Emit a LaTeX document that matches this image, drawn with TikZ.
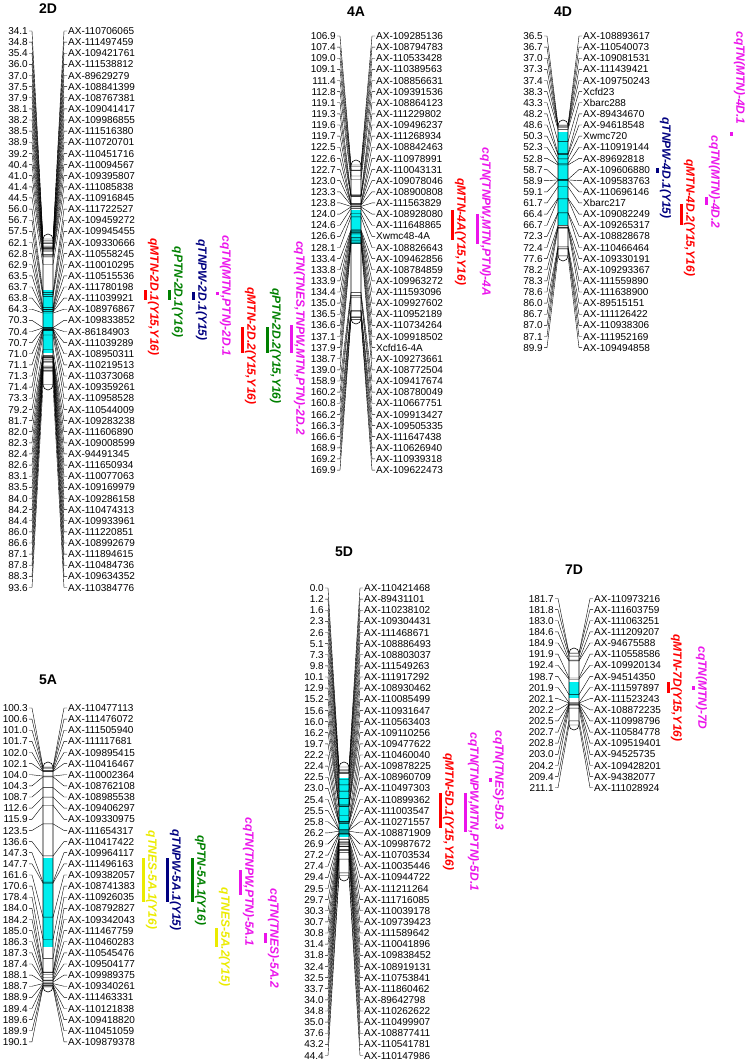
\documentclass[tikz,border=0pt]{standalone}
\usepackage{fontspec}
\setmainfont{Liberation Sans}
\usetikzlibrary{calc}

\definecolor{qtlcyan}{RGB}{0,238,238}
\definecolor{qred}{RGB}{255,0,0}
\definecolor{qgreen}{RGB}{0,128,0}
\definecolor{qnavy}{RGB}{0,0,128}
\definecolor{qpink}{RGB}{235,20,235}
\definecolor{qyellow}{RGB}{235,235,0}

\tikzset{
  cmlabel/.style={anchor=east, inner sep=1pt, font=\fontsize{10}{12}\selectfont, text height=7.2pt, text depth=0pt},
  mklabel/.style={anchor=west, inner sep=1pt, font=\fontsize{10}{12}\selectfont, text height=7.2pt, text depth=0pt},
  link/.style={line width=0.4pt},
  chrom/.style={draw, line width=0.6pt, rounded corners=5pt},
  qbar/.style={line width=3pt},
  qlab/.style={rotate=-90, inner sep=0pt, font=\bfseries\itshape\fontsize{12}{14}\selectfont},
  maptitle/.style={inner sep=0pt, font=\bfseries\fontsize{14}{16}\selectfont}
}

\begin{document}
\begin{tikzpicture}[x=1pt,y=-1pt]
  \useasboundingbox (0,0) rectangle (750,1064);

  % 2D
  \node[maptitle] (t2D) at (48,9) {2D};
  \fill[qtlcyan] (43,290) rectangle (53,353);
  \foreach \cm/\mk [count=\i] in {34.1/AX-110706065, 34.8/AX-111497459, 35.4/AX-109421761, 36.0/AX-111538812, 37.0/AX-89629279, 37.5/AX-108841399, 37.9/AX-108767381, 38.1/AX-109041417, 38.2/AX-109986855, 38.5/AX-111516380, 38.9/AX-110720701, 39.2/AX-110451716, 40.4/AX-110094567, 41.0/AX-109395807, 41.4/AX-111085838, 44.5/AX-110916845, 56.0/AX-111722527, 56.7/AX-109459272, 57.5/AX-109945455, 62.1/AX-109330666, 62.8/AX-110558245, 62.9/AX-110010295, 63.5/AX-110515536, 63.7/AX-111780198, 63.8/AX-111039921, 64.3/AX-108976867, 70.3/AX-109833852, 70.4/AX-86184903, 70.7/AX-111039289, 71.0/AX-108950311, 71.1/AX-110219513, 71.3/AX-110373068, 71.4/AX-109359261, 73.3/AX-110958528, 79.2/AX-110544009, 81.7/AX-109283238, 82.0/AX-111606890, 82.3/AX-109008599, 82.4/AX-94491345, 82.6/AX-111650934, 83.1/AX-110077063, 83.5/AX-109169979, 84.0/AX-109286158, 84.2/AX-110474313, 84.4/AX-109933961, 86.0/AX-111220851, 86.6/AX-108992679, 87.1/AX-111894615, 87.8/AX-110484736, 88.3/AX-109634352, 93.6/AX-110384776}{
    \pgfmathsetmacro\yl{31+(\i-1)*11.13}
    \pgfmathsetmacro\yt{239+(\cm-34.1)*2.45}
    \node[cmlabel] (c2D-\i) at (29,\yl) {\cm};
    \node[mklabel] (m2D-\i) at (67,\yl) {\mk};
    \coordinate (l2D-\i) at (43,\yt);
    \coordinate (r2D-\i) at (53,\yt);
    \draw[link] (c2D-\i.east) -- ++(3,0) -- (l2D-\i) -- (r2D-\i) -- ($(m2D-\i.west)+(-3,0)$) -- (m2D-\i.west);
  }
  \draw[chrom] (43,234) rectangle (53,390);
  \draw[qbar,qred] (145,290) -- (145,300);
  \node[qlab,text=qred] (q2D-1) at (153.5,297) {qMTN-2D.1(Y15,Y16)};
  \draw[qbar,qgreen] (169,290) -- (169,300);
  \node[qlab,text=qgreen] (q2D-2) at (177.5,292) {qPTN-2D.1(Y16)};
  \draw[qbar,qnavy] (193,292) -- (193,300);
  \node[qlab,text=qnavy] (q2D-3) at (201.5,290) {qTNPW-2D.1(Y15)};
  \draw[qbar,qpink] (217,292) -- (217,295);
  \node[qlab,text=qpink] (q2D-4) at (225.5,296) {cqTN(MTN,PTN)-2D.1};
  \draw[qbar,qred] (242,327) -- (242,353);
  \node[qlab,text=qred] (q2D-5) at (250.5,346) {qMTN-2D.2(Y15,Y16)};
  \draw[qbar,qgreen] (267,327) -- (267,353);
  \node[qlab,text=qgreen] (q2D-6) at (275.5,346) {qPTN-2D.2(Y15,Y16)};
  \draw[qbar,qpink] (291,325) -- (291,353);
  \node[qlab,text=qpink] (q2D-7) at (299.5,338) {cqTN(TNES,TNPW,MTN,PTN)-2D.2};

  % 4A
  \node[maptitle] (t4A) at (356,12) {4A};
  \fill[qtlcyan] (351,210) rectangle (361,244);
  \foreach \cm/\mk [count=\i] in {106.9/AX-109285136, 107.4/AX-108794783, 109.0/AX-110533428, 109.1/AX-110389563, 111.4/AX-108856631, 112.8/AX-109391536, 119.1/AX-108864123, 119.3/AX-111229802, 119.6/AX-109496237, 119.7/AX-111268934, 122.5/AX-108842463, 122.6/AX-110978991, 122.7/AX-110043131, 123.0/AX-109078046, 123.3/AX-108900808, 123.8/AX-111563829, 124.0/AX-108928080, 124.6/AX-111648865, 126.6/Xwmc48-4A, 128.1/AX-108826643, 133.4/AX-109462856, 133.8/AX-108784859, 133.9/AX-109963272, 134.4/AX-111593096, 135.0/AX-109927602, 136.5/AX-110952189, 136.6/AX-110734264, 137.1/AX-109918502, 137.9/Xcfd16-4A, 138.7/AX-109273661, 139.0/AX-108772504, 158.9/AX-109417674, 160.2/AX-108780049, 160.8/AX-110667751, 166.2/AX-109913427, 166.3/AX-109505335, 166.6/AX-111647438, 168.9/AX-110626940, 169.2/AX-110939318, 169.9/AX-109622473}{
    \pgfmathsetmacro\yl{36+(\i-1)*11.13}
    \pgfmathsetmacro\yt{165+(\cm-106.9)*2.45}
    \node[cmlabel] (c4A-\i) at (337,\yl) {\cm};
    \node[mklabel] (m4A-\i) at (375,\yl) {\mk};
    \coordinate (l4A-\i) at (351,\yt);
    \coordinate (r4A-\i) at (361,\yt);
    \draw[link] (c4A-\i.east) -- ++(3,0) -- (l4A-\i) -- (r4A-\i) -- ($(m4A-\i.west)+(-3,0)$) -- (m4A-\i.west);
  }
  \draw[chrom] (351,160) rectangle (361,324);
  \draw[qbar,qred] (452,210) -- (452,240);
  \node[qlab,text=qred] (q4A-1) at (460.5,232) {qMTN-4A(Y15,Y16)};
  \draw[qbar,qpink] (477,214) -- (477,244);
  \node[qlab,text=qpink] (q4A-2) at (485.5,222) {cqTN(TNPW,MTN,PTN)-4A};

  % 4D
  \node[maptitle] (t4D) at (563,12) {4D};
  \fill[qtlcyan] (558,132) rectangle (568,225);
  \foreach \cm/\mk [count=\i] in {36.5/AX-108893617, 36.7/AX-110540073, 37.0/AX-109081531, 37.3/AX-111439421, 37.4/AX-109750243, 38.3/Xcfd23, 43.3/Xbarc288, 48.2/AX-89434670, 48.6/AX-94618548, 50.3/Xwmc720, 52.3/AX-110919144, 52.8/AX-89692818, 58.7/AX-109606880, 58.9/AX-109583763, 59.1/AX-110696146, 61.7/Xbarc217, 66.4/AX-109082249, 66.7/AX-109265317, 72.3/AX-108828678, 72.4/AX-110466464, 77.6/AX-109330191, 78.2/AX-109293367, 78.3/AX-111559890, 78.6/AX-111638900, 86.0/AX-89515151, 86.7/AX-111126422, 87.0/AX-110938306, 87.1/AX-111952169, 89.9/AX-109494858}{
    \pgfmathsetmacro\yl{36+(\i-1)*11.13}
    \pgfmathsetmacro\yt{125+(\cm-36.5)*2.45}
    \node[cmlabel] (c4D-\i) at (544,\yl) {\cm};
    \node[mklabel] (m4D-\i) at (582,\yl) {\mk};
    \coordinate (l4D-\i) at (558,\yt);
    \coordinate (r4D-\i) at (568,\yt);
    \draw[link] (c4D-\i.east) -- ++(3,0) -- (l4D-\i) -- (r4D-\i) -- ($(m4D-\i.west)+(-3,0)$) -- (m4D-\i.west);
  }
  \draw[chrom] (558,120) rectangle (568,261);
  \draw[qbar,qnavy] (657,168) -- (657,173);
  \node[qlab,text=qnavy] (q4D-1) at (665.5,168) {qTNPW-4D.1(Y15)};
  \draw[qbar,qred] (681,204) -- (681,225);
  \node[qlab,text=qred] (q4D-2) at (689.5,218) {qMTN-4D.2(Y15,Y16)};
  \draw[qbar,qpink] (706,197) -- (706,205);
  \node[qlab,text=qpink] (q4D-3) at (714.5,182) {cqTN(MTN)-4D.2};
  \draw[qbar,qpink] (731,132) -- (731,136);
  \node[qlab,text=qpink] (q4D-4) at (739.5,78) {cqTN(MTN)-4D.1};

  % 5A
  \node[maptitle] (t5A) at (48,680) {5A};
  \fill[qtlcyan] (43,858) rectangle (53,947);
  \foreach \cm/\mk [count=\i] in {100.3/AX-110477113, 100.6/AX-111476072, 101.0/AX-111505940, 101.7/AX-111117681, 102.0/AX-109895415, 102.1/AX-110416467, 104.0/AX-110002364, 104.3/AX-108762108, 108.7/AX-108985538, 112.6/AX-109406297, 115.9/AX-109330975, 123.5/AX-111654317, 136.6/AX-110417422, 147.3/AX-109964117, 147.7/AX-111496163, 161.6/AX-109382057, 170.6/AX-108741383, 178.4/AX-110926035, 184.0/AX-108792827, 184.2/AX-109342043, 185.0/AX-111467759, 186.3/AX-110460283, 187.3/AX-110545476, 187.4/AX-109504177, 188.1/AX-109989375, 188.7/AX-109340261, 188.9/AX-111463331, 189.4/AX-110121838, 189.6/AX-109418820, 189.9/AX-110451059, 190.1/AX-109879378}{
    \pgfmathsetmacro\yl{708+(\i-1)*11.13}
    \pgfmathsetmacro\yt{767+(\cm-100.3)*2.45}
    \node[cmlabel] (c5A-\i) at (29,\yl) {\cm};
    \node[mklabel] (m5A-\i) at (67,\yl) {\mk};
    \coordinate (l5A-\i) at (43,\yt);
    \coordinate (r5A-\i) at (53,\yt);
    \draw[link] (c5A-\i.east) -- ++(3,0) -- (l5A-\i) -- (r5A-\i) -- ($(m5A-\i.west)+(-3,0)$) -- (m5A-\i.west);
  }
  \draw[chrom] (43,762) rectangle (53,992);
  \draw[qbar,qyellow] (143,858) -- (143,902);
  \node[qlab,text=qyellow] (q5A-1) at (151.5,880) {qTNES-5A.1(Y16)};
  \draw[qbar,qnavy] (167,858) -- (167,902);
  \node[qlab,text=qnavy] (q5A-2) at (175.5,880) {qTNPW-5A.1(Y15)};
  \draw[qbar,qgreen] (192,858) -- (192,902);
  \node[qlab,text=qgreen] (q5A-3) at (200.5,880) {qPTN-5A.1(Y16)};
  \draw[qbar,qyellow] (216,928) -- (216,947);
  \node[qlab,text=qyellow] (q5A-4) at (224.5,937) {qTNES-5A.2(Y15)};
  \draw[qbar,qpink] (240,870) -- (240,895);
  \node[qlab,text=qpink] (q5A-5) at (248.5,882) {cqTN(TNPW,PTN)-5A.1};
  \draw[qbar,qpink] (265,933) -- (265,943);
  \node[qlab,text=qpink] (q5A-6) at (273.5,938) {cqTN(TNES)-5A.2};

  % 5D
  \node[maptitle] (t5D) at (344,552) {5D};
  \fill[qtlcyan] (339,778) rectangle (349,837);
  \foreach \cm/\mk [count=\i] in {0.0/AX-110421468, 1.2/AX-89431101, 1.6/AX-110238102, 2.3/AX-109304431, 2.6/AX-111468671, 5.1/AX-108886493, 7.3/AX-108803037, 9.8/AX-111549263, 10.1/AX-111917292, 12.9/AX-108930462, 15.2/AX-110085499, 15.6/AX-110931647, 16.0/AX-110563403, 16.2/AX-109110256, 19.7/AX-109477622, 22.2/AX-110460040, 22.4/AX-109878225, 22.5/AX-108960709, 23.0/AX-110497303, 25.4/AX-110899362, 25.5/AX-111003547, 25.8/AX-110271557, 26.2/AX-108871909, 26.9/AX-109987672, 27.2/AX-110703534, 27.4/AX-110035446, 29.4/AX-110944722, 29.5/AX-111211264, 29.7/AX-111716085, 30.3/AX-110039178, 30.7/AX-109739423, 30.8/AX-111589642, 31.4/AX-110041896, 31.8/AX-109838452, 32.4/AX-108919131, 32.5/AX-110753841, 33.7/AX-111860462, 34.0/AX-89642798, 34.8/AX-110262622, 35.0/AX-110499907, 37.6/AX-108877411, 43.2/AX-110541781, 44.4/AX-110147986}{
    \pgfmathsetmacro\yl{588+(\i-1)*11.13}
    \pgfmathsetmacro\yt{767+\cm*2.45}
    \node[cmlabel] (c5D-\i) at (325,\yl) {\cm};
    \node[mklabel] (m5D-\i) at (363,\yl) {\mk};
    \coordinate (l5D-\i) at (339,\yt);
    \coordinate (r5D-\i) at (349,\yt);
    \draw[link] (c5D-\i.east) -- ++(3,0) -- (l5D-\i) -- (r5D-\i) -- ($(m5D-\i.west)+(-3,0)$) -- (m5D-\i.west);
  }
  \draw[chrom] (339,762) rectangle (349,881);
  \draw[qbar,qred] (440,793) -- (440,828);
  \node[qlab,text=qred] (q5D-1) at (448.5,812) {qMTN-5D.1(Y15,Y16)};
  \draw[qbar,qpink] (465,793) -- (465,832);
  \node[qlab,text=qpink] (q5D-2) at (473.5,812) {cqTN(TNPW,MTN,PTN)-5D.1};
  \draw[qbar,qpink] (490,778) -- (490,782);
  \node[qlab,text=qpink] (q5D-3) at (498.5,780) {cqTN(TNES)-5D.3};

  % 7D
  \node[maptitle] (t7D) at (574,570) {7D};
  \fill[qtlcyan] (569,682) rectangle (579,698);
  \foreach \cm/\mk [count=\i] in {181.7/AX-110973216, 181.8/AX-111603759, 183.0/AX-111063251, 184.6/AX-111209207, 184.9/AX-94675588, 191.9/AX-110558586, 192.4/AX-109920134, 198.7/AX-94514350, 201.9/AX-111597897, 202.1/AX-111523243, 202.2/AX-108872235, 202.5/AX-110998796, 202.7/AX-110584778, 202.8/AX-109519401, 203.0/AX-94525735, 204.2/AX-109428201, 209.4/AX-94382077, 211.1/AX-111028924}{
    \pgfmathsetmacro\yl{598.5+(\i-1)*11.13}
    \pgfmathsetmacro\yt{653+(\cm-181.7)*2.45}
    \node[cmlabel] (c7D-\i) at (555,\yl) {\cm};
    \node[mklabel] (m7D-\i) at (593,\yl) {\mk};
    \coordinate (l7D-\i) at (569,\yt);
    \coordinate (r7D-\i) at (579,\yt);
    \draw[link] (c7D-\i.east) -- ++(3,0) -- (l7D-\i) -- (r7D-\i) -- ($(m7D-\i.west)+(-3,0)$) -- (m7D-\i.west);
  }
  \draw[chrom] (569,648) rectangle (579,730);
  \draw[qbar,qred] (668,682) -- (668,693);
  \node[qlab,text=qred] (q7D-1) at (676.5,688) {qMTN-7D(Y15,Y16)};
  \draw[qbar,qpink] (693,686) -- (693,690);
  \node[qlab,text=qpink] (q7D-2) at (701.5,688) {cqTN(MTN)-7D};
\end{tikzpicture}
\end{document}
